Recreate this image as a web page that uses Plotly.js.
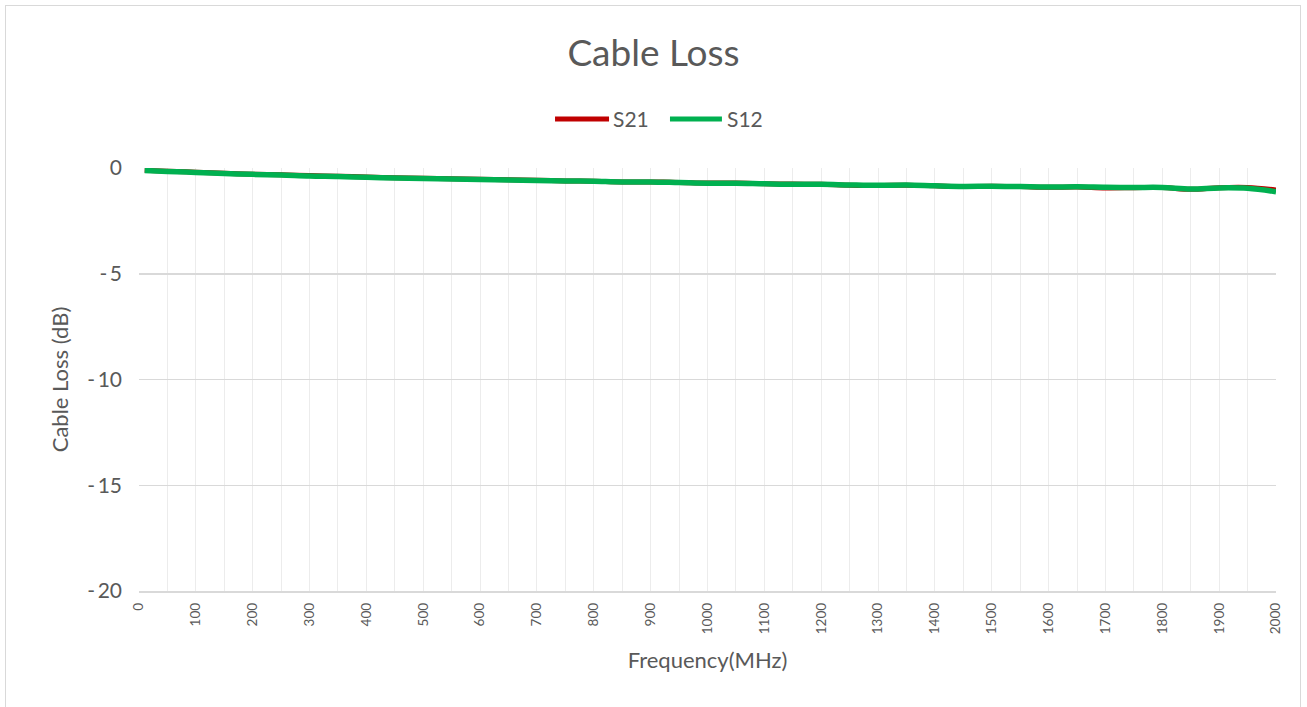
<!DOCTYPE html>
<html>
<head>
<meta charset="utf-8">
<script src="https://cdn.plot.ly/plotly-3.0.1.min.js"></script>
<style>
html,body{margin:0;padding:0;background:#fff;}
#frame{position:absolute;left:5px;top:5px;width:1296px;height:705px;border:1px solid #d9d9d9;box-sizing:border-box;}
#chart{position:absolute;left:0;top:0;width:1307px;height:707px;}
</style>
</head>
<body>
<div id="frame"></div>
<div id="chart"></div>
<script>
const freq = [10,50,100,150,200,250,300,350,400,450,500,550,600,650,700,750,800,850,900,950,1000,1050,1100,1150,1200,1250,1300,1350,1400,1450,1500,1550,1600,1650,1700,1750,1800,1850,1900,1950,2000];
const s21 = [-0.11,-0.15,-0.20,-0.25,-0.29,-0.32,-0.36,-0.39,-0.42,-0.46,-0.48,-0.51,-0.53,-0.56,-0.58,-0.61,-0.63,-0.66,-0.66,-0.68,-0.71,-0.71,-0.74,-0.76,-0.77,-0.81,-0.83,-0.81,-0.84,-0.88,-0.86,-0.88,-0.91,-0.90,-0.94,-0.93,-0.92,-1.01,-0.93,-0.92,-1.04];
const s12 = [-0.12,-0.16,-0.21,-0.26,-0.30,-0.33,-0.38,-0.40,-0.44,-0.47,-0.50,-0.52,-0.54,-0.57,-0.59,-0.61,-0.63,-0.66,-0.66,-0.69,-0.72,-0.72,-0.75,-0.77,-0.77,-0.80,-0.82,-0.80,-0.84,-0.87,-0.86,-0.88,-0.90,-0.89,-0.91,-0.92,-0.92,-0.99,-0.94,-0.96,-1.12];
const xTicks = [0,100,200,300,400,500,600,700,800,900,1000,1100,1200,1300,1400,1500,1600,1700,1800,1900,2000];
const yTicks = [0,-5,-10,-15,-20];
const seriesNames = ['S21', 'S12'];
const seriesColors = ['#C00000', '#00B050'];

const FONT = 'Lato, "Noto Sans", sans-serif';
const traces = [
  {x: freq, y: s21, name: seriesNames[0], type: 'scatter', mode: 'lines', line: {color: seriesColors[0], width: 5, shape: 'spline'}, showlegend: false},
  {x: freq, y: s12, name: seriesNames[1], type: 'scatter', mode: 'lines', line: {color: seriesColors[1], width: 5.5, shape: 'spline'}, showlegend: false}
];

// custom legend (paper coordinates)
const legY = 1.116;
const legItems = [{x0: 0.3659, x1: 0.4134, tx: 0.4150}, {x0: 0.4670, x1: 0.5127, tx: 0.5150}];
const shapes = legItems.map((it, i) => ({type: 'line', xref: 'paper', yref: 'paper', x0: it.x0, x1: it.x1, y0: legY, y1: legY,
  line: {color: seriesColors[i], width: 5}}));
const annotations = legItems.map((it, i) => ({xref: 'paper', yref: 'paper', x: it.tx, y: legY, xanchor: 'left', yanchor: 'middle',
  text: seriesNames[i], showarrow: false, font: {size: 21, color: '#595959', family: FONT}}));

const layout = {
  width: 1307, height: 707,
  paper_bgcolor: 'rgba(0,0,0,0)', plot_bgcolor: '#fff',
  margin: {l: 139, r: 31, t: 168, b: 116},
  font: {family: FONT, color: '#595959'},
  title: {text: 'Cable Loss', font: {size: 37, color: '#595959', family: FONT}, x: 0.5, xanchor: 'center', y: 0.925, yanchor: 'middle'},
  showlegend: false,
  shapes: shapes,
  annotations: annotations,
  xaxis: {
    range: [0, 2000], tickmode: 'array', tickvals: xTicks, ticktext: xTicks.map(String),
    tickangle: -90, tickfont: {size: 13.5, color: '#595959'}, ticklabelstandoff: 5,
    showgrid: true, gridcolor: '#ececec', gridwidth: 1,
    minor: {dtick: 50, tick0: 0, showgrid: true, gridcolor: '#ececec', gridwidth: 1},
    showline: true, linecolor: '#d9d9d9', linewidth: 1.5, zeroline: false, ticks: '',
    title: {text: 'Frequency(MHz)', font: {size: 22, color: '#595959'}, standoff: 19}
  },
  yaxis: {
    range: [-20, 0], tickmode: 'array', tickvals: yTicks, ticktext: yTicks.map(v => v === 0 ? '0' : '-\u2009' + String(-v)),
    tickfont: {size: 21, color: '#595959'}, ticks: '', ticklabelstandoff: 16,
    showgrid: true, gridcolor: '#d9d9d9', gridwidth: 1.5, zeroline: false, showline: false,
    title: {text: 'Cable Loss (dB)', font: {size: 22, color: '#595959'}, standoff: 12}
  }
};
Plotly.newPlot('chart', traces, layout, {displayModeBar: false, staticPlot: true});
</script>
</body>
</html>
